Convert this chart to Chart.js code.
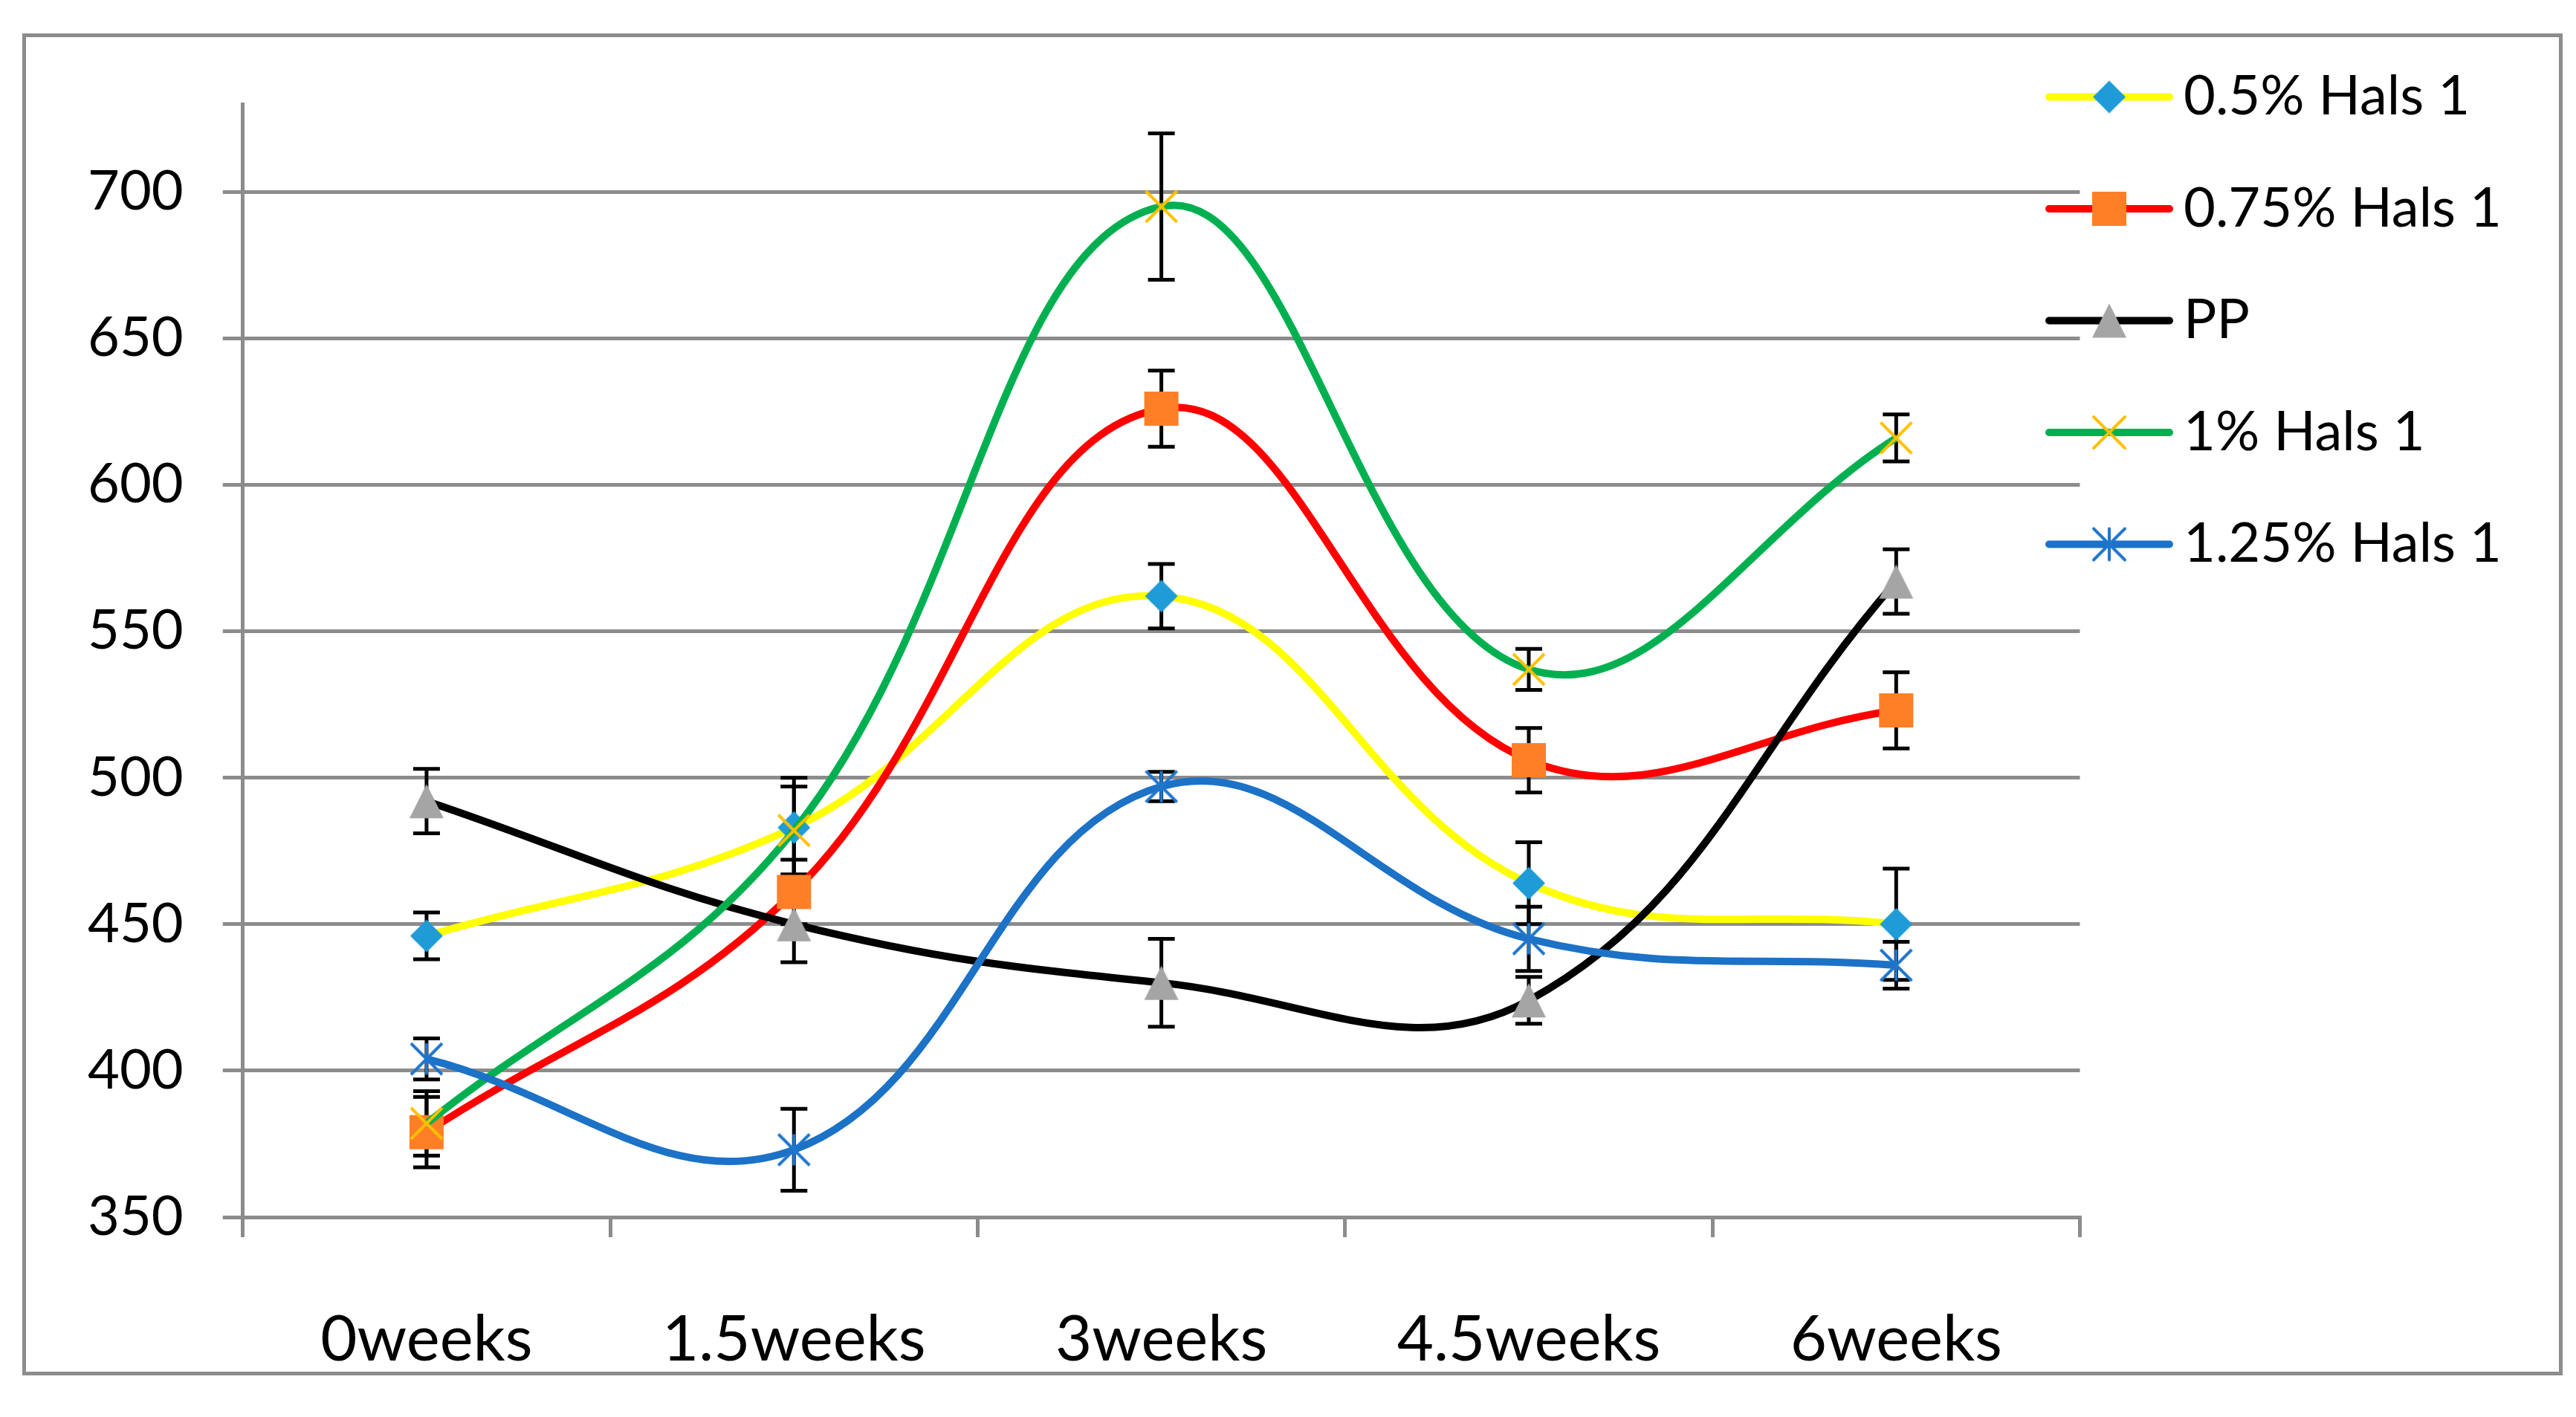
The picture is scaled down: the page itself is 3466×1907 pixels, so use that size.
<!DOCTYPE html>
<html>
<head>
<meta charset="utf-8">
<script src="https://cdn.jsdelivr.net/npm/chart.js@4.4.1/dist/chart.umd.min.js"></script>
<style>
  html, body { margin: 0; padding: 0; background: #fff; }
  #frame { position: absolute; left: 30px; top: 45px; width: 3418px; height: 1806px;
           border: 5px solid #8c8c8c; box-sizing: border-box; }
  #grafico { position: absolute; left: 0; top: 0; }
</style>
</head>
<body>
<div id="frame"></div>
<canvas id="grafico" width="3466" height="1907"></canvas>
<script>
const categories = ['0weeks', '1.5weeks', '3weeks', '4.5weeks', '6weeks'];
const yTicks = [350, 400, 450, 500, 550, 600, 650, 700];

const hals05 = [446, 483, 562, 464, 450];
const hals05Err = [8, 17, 11, 14, 19];
const hals075 = [379, 461, 626, 506, 523];
const hals075Err = [12, 11, 13, 11, 13];
const pp = [492, 450, 430, 424, 567];
const ppErr = [11, 13, 15, 8, 11];
const hals1 = [382, 482, 695, 537, 616];
const hals1Err = [11, 15, 25, 7, 8];
const hals125 = [404, 373, 497, 445, 436];
const hals125Err = [7, 14, 5, 11, 8];

const grey = '#8c8c8c';
const font = 'Lato';

// marker shapes like the Excel ones
function drawMarker(g, kind, color) {
  g.fillStyle = color;
  g.strokeStyle = color;
  g.lineWidth = 4;
  g.beginPath();
  if (kind === 'diamond') {
    g.moveTo(0, -22); g.lineTo(22, 0); g.lineTo(0, 22); g.lineTo(-22, 0);
    g.closePath(); g.fill();
  } else if (kind === 'square') {
    g.rect(-23, -23, 46, 46); g.fill();
  } else if (kind === 'triangle') {
    g.moveTo(0, -23); g.lineTo(23, 23); g.lineTo(-23, 23);
    g.closePath(); g.fill();
  } else if (kind === 'x') {
    g.moveTo(-21, -21); g.lineTo(21, 21);
    g.moveTo(21, -21); g.lineTo(-21, 21);
    g.stroke();
  } else if (kind === 'star') {
    g.moveTo(-21, -21); g.lineTo(21, 21);
    g.moveTo(21, -21); g.lineTo(-21, 21);
    g.moveTo(0, -21); g.lineTo(0, 21);
    g.stroke();
  }
}

function markerImg(kind, color) {
  const c = document.createElement('canvas');
  c.width = 60; c.height = 60;
  const g = c.getContext('2d');
  g.translate(30, 30);
  drawMarker(g, kind, color);
  return c;
}

function legendImg(lineColor, kind, color) {
  const c = document.createElement('canvas');
  c.width = 272; c.height = 60;
  const g = c.getContext('2d');
  g.strokeStyle = lineColor;
  g.lineWidth = 10;
  g.lineCap = 'round';
  g.beginPath(); g.moveTo(5, 30); g.lineTo(167, 30); g.stroke();
  g.translate(86, 30);
  drawMarker(g, kind, color);
  return c;
}

const series = [
  { label: '0.5% Hals 1', data: hals05, errors: hals05Err, line: '#ffff00', kind: 'diamond', mark: '#1f9cd8' },
  { label: '0.75% Hals 1', data: hals075, errors: hals075Err, line: '#ff0000', kind: 'square', mark: '#ff7f27' },
  { label: 'PP', data: pp, errors: ppErr, line: '#000000', kind: 'triangle', mark: '#a5a5a5' },
  { label: '1% Hals 1', data: hals1, errors: hals1Err, line: '#00b050', kind: 'x', mark: '#ffc000' },
  { label: '1.25% Hals 1', data: hals125, errors: hals125Err, line: '#1c72c6', kind: 'star', mark: '#1f75cb' }
];

const legendIcons = series.map(s => legendImg(s.line, s.kind, s.mark));

const datasets = series.map((s, i) => ({
  label: s.label,
  data: s.data,
  errors: s.errors,
  borderColor: s.line,
  backgroundColor: s.line,
  borderWidth: 10,
  tension: 0.4,
  fill: false,
  pointStyle: markerImg(s.kind, s.mark),
  pointRadius: 20,
  pointHoverRadius: 20,
  order: series.length - i,
  iconIndex: i
}));

// vertical error bars with caps, under the lines
const errorBars = {
  id: 'errorBars',
  beforeDatasetsDraw(chart) {
    const ctx = chart.ctx;
    const y = chart.scales.y;
    ctx.save();
    ctx.strokeStyle = '#000';
    ctx.lineWidth = 5;
    chart.data.datasets.forEach((ds, i) => {
      chart.getDatasetMeta(i).data.forEach((pt, j) => {
        const top = y.getPixelForValue(ds.data[j] + ds.errors[j]);
        const bot = y.getPixelForValue(ds.data[j] - ds.errors[j]);
        ctx.beginPath();
        ctx.moveTo(pt.x, top); ctx.lineTo(pt.x, bot);
        ctx.moveTo(pt.x - 18, top); ctx.lineTo(pt.x + 18, top);
        ctx.moveTo(pt.x - 18, bot); ctx.lineTo(pt.x + 18, bot);
        ctx.stroke();
      });
    });
    ctx.restore();
  }
};

// legend line samples reach a bit left of the legend box, so don't clip it
const legendNoClip = {
  id: 'legendNoClip',
  beforeDraw(chart) {
    const lg = chart.legend;
    if (lg && typeof lg._draw === 'function' && !lg._noClip) {
      lg._noClip = true;
      lg.draw = function () { if (this.options.display) this._draw(); };
    }
  }
};

const ctx = document.getElementById('grafico').getContext('2d');
new Chart(ctx, {
  type: 'line',
  data: { labels: categories, datasets: datasets },
  plugins: [errorBars, legendNoClip],
  options: {
    responsive: false,
    animation: false,
    devicePixelRatio: 1,
    layout: { padding: { top: 17, left: 65, right: 90, bottom: 49 } },
    scales: {
      x: {
        offset: true,
        afterFit: axis => { axis.height = 220; },
        grid: { offset: true, drawOnChartArea: false, color: grey, lineWidth: 5, tickLength: 27 },
        border: { display: true, color: grey, width: 5 },
        ticks: { color: '#000', font: { family: font, size: 85 }, padding: 88, maxRotation: 0 }
      },
      y: {
        min: 350,
        max: 730,
        afterBuildTicks: axis => { axis.ticks = yTicks.map(v => ({ value: v })); },
        grid: { color: grey, lineWidth: 5, tickLength: 27 },
        border: { display: true, color: grey, width: 5 },
        ticks: { color: '#000', font: { family: font, size: 74 }, padding: 53 }
      }
    },
    plugins: {
      title: { display: true, text: '', padding: 0, font: { size: 123, lineHeight: 1 } },
      tooltip: { enabled: false },
      legend: {
        position: 'right',
        align: 'start',
        reverse: true,
        labels: {
          color: '#000',
          font: { family: font, size: 74 },
          padding: 76.5,
          usePointStyle: true,
          pointStyleWidth: 26,
          generateLabels: chart => Chart.defaults.plugins.legend.labels.generateLabels(chart)
            .map(item => Object.assign(item, {
              pointStyle: legendIcons[chart.data.datasets[item.datasetIndex].iconIndex]
            }))
        }
      }
    }
  }
});
</script>
</body>
</html>
